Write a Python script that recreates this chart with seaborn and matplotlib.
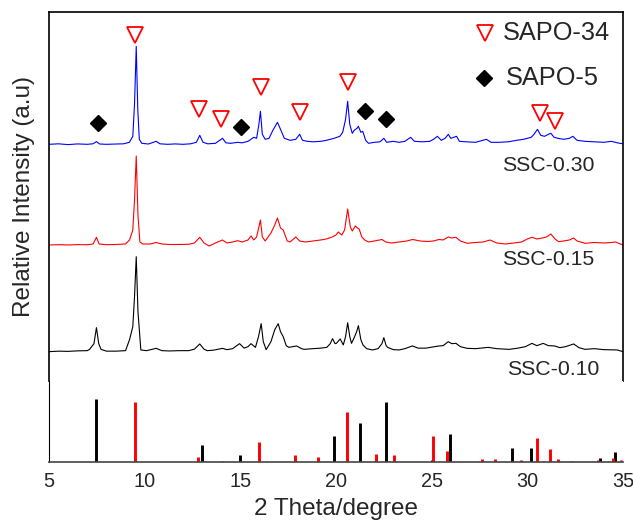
import matplotlib
matplotlib.use("Agg")
import matplotlib.pyplot as plt
import seaborn as sns
import numpy as np
import pandas as pd

# ---------------- data ----------------
# SSC-0.30 (blue): 2theta, intensity above its own baseline (a.u.)
blue_x = [5.0, 5.5, 6.0, 6.5, 7.0, 7.3, 7.48, 7.65, 8.0, 8.5, 8.9, 9.2, 9.38, 9.47, 9.56, 9.64, 9.72, 9.85,
          10.2, 10.6, 10.8, 11.2, 11.6, 12.0, 12.4, 12.7, 12.88, 13.05, 13.3, 13.7, 14.07, 14.25, 14.5, 14.86,
          15.1, 15.4, 15.7, 15.85, 15.97, 16.05, 16.15, 16.3, 16.5, 16.7, 16.94, 17.1, 17.3, 17.6, 17.9, 18.1,
          18.25, 18.5, 18.8, 19.2, 19.5, 19.9, 20.2, 20.35, 20.5, 20.61, 20.72, 20.85, 20.95, 21.1, 21.17, 21.3,
          21.4, 21.55, 21.7, 22.0, 22.3, 22.5, 22.65, 23.0, 23.3, 23.6, 23.9, 24.1, 24.5, 24.9, 25.1, 25.3,
          25.5, 25.7, 25.87, 26.0, 26.3, 26.45, 26.8, 27.3, 27.86, 28.1, 28.5, 29.0, 29.44, 29.8, 30.2, 30.35,
          30.53, 30.7, 30.9, 31.1, 31.23, 31.4, 31.6, 31.9, 32.2, 32.38, 32.6, 33.0, 33.5, 34.0, 34.4, 34.7, 35.0]
blue_y = [0, 0.5, -0.3, 0.4, 0, 0.5, 2.7, 0.3, 0, 0.3, 0.5, 2, 8, 40, 98, 35, 5, 1,
          0.3, 3, 0.5, 0, 0.4, 0, 0.5, 2, 9, 2, 0.5, 1, 6, 1.5, 1, 2,
          1.5, 3, 7, 6, 20, 33, 10, 5, 6, 14, 22, 15, 6, 4, 5, 10,
          4, 3, 2.5, 3, 4, 6, 8, 12, 25, 43, 20, 11, 14, 16, 18, 12,
          13, 4, 1, 2, 2.5, 6, 2, 3, 2, 3, 7, 3, 2.5, 3, 5, 8,
          4, 6, 10, 6, 8, 3, 2.5, 2, 5, 2, 2, 2.5, 4, 5, 7, 10,
          15, 9, 8, 10, 11, 7, 6, 5, 6, 8, 4, 3, 2.5, 2, 3, 1.5, 0.5]

# SSC-0.15 (red)
red_x = [5.0, 5.5, 6.0, 6.5, 7.0, 7.3, 7.48, 7.62, 8.0, 8.5, 9.0, 9.21, 9.38, 9.47, 9.56, 9.65, 9.75, 9.9,
         10.3, 10.6, 10.9, 11.3, 11.8, 12.3, 12.6, 12.88, 13.1, 13.37, 13.7, 14.07, 14.3, 14.6, 14.86, 15.1,
         15.4, 15.56, 15.7, 15.85, 15.97, 16.05, 16.15, 16.3, 16.6, 16.8, 16.94, 17.1, 17.24, 17.45, 17.6,
         17.9, 18.1, 18.4, 18.8, 19.2, 19.5, 19.8, 20.0, 20.12, 20.3, 20.45, 20.61, 20.75, 20.85, 21.01, 21.12,
         21.21, 21.35, 21.5, 21.7, 22.0, 22.4, 22.6, 22.9, 23.3, 23.7, 24.0, 24.4, 24.8, 25.1, 25.38, 25.6,
         25.87, 26.05, 26.27, 26.5, 26.86, 27.3, 27.7, 28.05, 28.4, 28.85, 29.3, 29.7, 30.0, 30.24, 30.5,
         30.8, 31.0, 31.23, 31.45, 31.63, 31.9, 32.2, 32.42, 32.6, 33.02, 33.5, 34.0, 34.4, 34.6, 34.8, 35.0]
red_y = [0, 0.3, 0, 0.4, 0.2, 1, 7.7, 1, 0.3, 0.5, 1, 5, 15, 45, 89, 30, 3, 1,
         1, 2.5, 1, 0.5, 0.5, 0.7, 2, 7.7, 2, -1, 2, 5, 2, 3, 4.3, 3,
         5, 9, 5, 8, 18, 25, 8, 4, 12, 20, 27, 17, 15, 4, 3,
         8, 4, 3, 4, 5, 6, 8, 10, 13, 10, 15, 36, 18, 14, 19, 17,
         16, 8, 5, 3, 4, 5.5, 3, 2, 3, 4, 5.5, 4, 3.5, 4, 5.5, 5,
         8, 7, 7.7, 4, 1.7, 2.5, 3, 5, 2, 1, 2, 3, 6, 7.7, 6,
         7, 8, 11, 6, 3.3, 4, 5, 7, 4, 1.7, 2.5, 2, 2.5, 3, 1.5, 0]

# SSC-0.10 (black)
black_x = [5.0, 5.5, 6.0, 6.5, 7.0, 7.12, 7.35, 7.48, 7.6, 7.72, 8.0, 8.5, 9.0, 9.21, 9.38, 9.47, 9.56, 9.65,
           9.8, 10.1, 10.6, 10.9, 11.3, 11.8, 12.3, 12.6, 12.88, 13.1, 13.27, 13.6, 14.07, 14.3, 14.6, 14.96,
           15.2, 15.4, 15.56, 15.79, 15.95, 16.09, 16.2, 16.35, 16.6, 16.8, 16.98, 17.1, 17.24, 17.4, 17.54,
           17.94, 18.2, 18.33, 18.8, 19.2, 19.52, 19.7, 19.82, 19.95, 20.02, 20.22, 20.38, 20.5, 20.61, 20.72,
           20.81, 20.95, 21.08, 21.17, 21.3, 21.41, 21.6, 21.9, 22.2, 22.4, 22.5, 22.62, 22.7, 23.0, 23.29,
           23.6, 23.99, 24.3, 24.7, 25.0, 25.38, 25.6, 25.87, 26.05, 26.27, 26.5, 26.86, 27.3, 27.96, 28.4,
           29.05, 29.5, 29.9, 30.24, 30.5, 30.83, 31.1, 31.43, 31.7, 32.0, 32.42, 32.7, 33.02, 33.5, 34.0,
           34.7, 35.0]
black_y = [0, 0.5, 0.3, 0.8, 1, 2.3, 8, 24, 8, 2.3, 0.5, 0.5, 1, 12, 25, 55, 95, 40,
           1.7, 1, 3.3, 1, 0.7, 1, 1, 2.5, 7.7, 2.5, 1, 1.5, 3.3, 2, 3, 8,
           3.5, 5, 8, 4.3, 15, 28, 10, 2, 10, 22, 28, 20, 15, 6, 4.3,
           5.7, 3, 2.3, 3, 3.5, 4.3, 8, 13, 8, 8.3, 12.7, 6.7, 15, 29, 15,
           8.3, 14, 20, 26, 12, 6.7, 3, 1.7, 3, 8, 14, 6, 4.3, 2, 1.7,
           3, 5.7, 3.5, 3.5, 4.5, 5.7, 6, 10, 8, 8.3, 5, 3.3, 3, 4.3, 3,
           2.3, 3.5, 5, 8.3, 6, 8.3, 6, 5.7, 4, 5, 7.7, 4, 2.3, 3, 2,
           1.7, 0]

sample_names = ["SSC-0.10", "SSC-0.15", "SSC-0.30"]
sample_offsets = [29.3, 136, 236.7]

# reference stick patterns (relative intensity)
sapo5_pos = [7.48, 12.98, 14.96, 19.88, 21.27, 22.62, 25.02, 25.97, 29.2, 30.2, 33.8, 34.6]
sapo5_int = [100, 27, 10.7, 41.5, 61.7, 95.7, 3.2, 44, 22.8, 22.8, 5.9, 16]
sapo34_pos = [9.5, 12.78, 14.03, 15.97, 17.88, 19.07, 20.56, 22.1, 23.04, 25.08, 25.79, 27.62, 28.33,
              29.68, 30.5, 31.17, 31.6, 32.3, 33.7, 34.48, 34.9]
sapo34_int = [95.7, 8.5, 1.6, 31.4, 11.6, 8, 79.7, 12.8, 11.2, 41.5, 17, 4.8, 4.8,
              3.2, 38.3, 21.2, 4.8, 2.1, 3.2, 6.9, 3.2]

# phase markers on the SSC-0.30 pattern
tri_x = [9.5, 12.82, 14.0, 16.1, 18.13, 20.65, 30.64, 31.43]
tri_y = [346, 272, 262, 294, 269, 299, 268, 260]
dia_x = [7.58, 15.06, 21.5, 22.6]
dia_y = [258, 254, 270, 262]

x_ticks = [5, 10, 15, 20, 25, 30, 35]

# ---------------- plotting ----------------
sns.set_style("white")
plt.rcParams["font.family"] = ["Liberation Sans", "DejaVu Sans"]

fig = plt.figure(figsize=(6.33, 5.24), dpi=100)
ax = fig.add_axes([0.0774, 0.273, 0.9068, 0.704])
axb = fig.add_axes([0.0774, 0.118, 0.9068, 0.155], sharex=ax)

traces = [(black_x, black_y, "#000000"), (red_x, red_y, "#ff0000"), (blue_x, blue_y, "#0000ff")]
for (tx, ty, col), off in zip(traces, sample_offsets):
    df = pd.DataFrame({"two_theta": tx, "intensity": np.array(ty) + off})
    sns.lineplot(data=df, x="two_theta", y="intensity", ax=ax, color=col, lw=0.8,
                 estimator=None, sort=False)

ax.plot(tri_x, tri_y, linestyle="none", marker="v", ms=11, mfc="none", mec="#ff0000", mew=1.3,
        clip_on=False)
ax.plot(dia_x, dia_y, linestyle="none", marker="D", ms=8.5, color="black")

# legend-like annotations
ax.plot([27.8], [348], linestyle="none", marker="v", ms=11, mfc="none", mec="#ff0000", mew=1.3)
ax.plot([27.76], [303], linestyle="none", marker="D", ms=8.5, color="black")
ax.text(28.7, 348, "SAPO-34", fontsize=18.3, va="center", ha="left")
ax.text(28.85, 303, "SAPO-5", fontsize=18.3, va="center", ha="left")

label_y = [11, 121, 216]
label_x = [28.95, 28.7, 28.7]
for nm, lx, ly in zip(sample_names, label_x, label_y):
    ax.text(lx, ly, nm, fontsize=15.3, va="center", ha="left")

ax.set_xlim(5, 35)
ax.set_ylim(0, 369)
ax.set_xlabel("")
ax.set_ylabel("Relative Intensity (a.u)", fontsize=17.5, labelpad=10)
ax.set_yticks([])
ax.tick_params(axis="x", which="both", bottom=False, labelbottom=False)
for s in ["left", "top", "right"]:
    ax.spines[s].set_color("black")
    ax.spines[s].set_linewidth(1.2)
ax.spines["bottom"].set_visible(False)

# stick patterns
axb.vlines(sapo5_pos, 0, sapo5_int, color="black", lw=2.1)
axb.vlines(sapo34_pos, 0, sapo34_int, color="#ff0000", lw=2.1)
axb.set_ylim(0, 129)
axb.set_yticks([])
axb.set_xticks(x_ticks)
axb.set_xticklabels([str(t) for t in x_ticks], fontsize=14.3)
axb.tick_params(axis="x", direction="out", length=4, width=1, color="#666666", pad=3)
axb.set_xlabel("2 Theta/degree", fontsize=17.5, labelpad=5)
axb.spines["top"].set_visible(False)
axb.spines["right"].set_visible(False)
axb.spines["left"].set_color("black")
axb.spines["left"].set_linewidth(0.8)
axb.spines["bottom"].set_color("#444444")
axb.spines["bottom"].set_linewidth(1.2)

fig.savefig("out.png", dpi=100)
